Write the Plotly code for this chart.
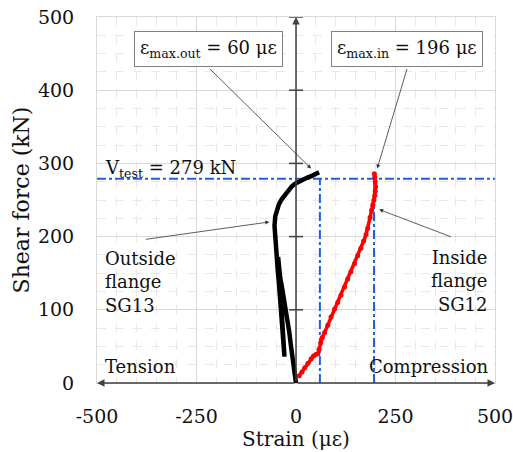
import plotly.graph_objects as go

# ---- data ----
# Outside flange SG13 (black)
out_strain = [0, -4, -9, -13, -17, -21, -25, -30, -35, -40, -44, -45, -42, -38, -34, -31, -29,
              -31, -34, -38, -42, -46, -50, -53, -54, -52, -48, -43, -36, -28, -20, -10, 0,
              10, 20, 30, 40, 48, 54, 58]
out_force = [0, 20, 36, 52, 70, 85, 100, 115, 130, 145, 160, 172, 150, 120, 90, 60, 36,
             55, 80, 105, 130, 155, 180, 200, 215, 228, 237, 244, 251, 257, 263, 269, 273,
             276, 279, 281, 283, 285, 287, 288]

# Inside flange SG12 (red)
in_strain = [8, 15, 22, 30, 38, 44, 50, 55, 58, 62, 66, 72, 80, 88, 97, 105, 113, 122,
             130, 138, 147, 155, 163, 170, 176, 180, 186, 190, 193, 196, 198, 199, 200, 199, 198, 197]
in_force = [10, 15, 21, 27, 33, 37, 39, 40, 46, 55, 62, 69, 79, 90, 101, 110, 120, 131,
            142, 152, 163, 174, 184, 194, 203, 211, 226, 236, 243, 250, 256, 262, 268, 275, 281, 286]

v_test = 279
eps_max_out = 60
eps_max_in = 196

x_ticks = [-500, -250, 0, 250, 500]
x_labels = ["-500", "-250", "0", "250", "500"]
y_ticks = [0, 100, 200, 300, 400, 500]

FONT = "DejaVu Serif"
BLUE = "#1f5fe0"
AX = "#404040"

fig = go.Figure()

# reference lines
fig.add_trace(go.Scatter(x=[x_ticks[0], x_ticks[-1]], y=[v_test, v_test], mode="lines",
                         line=dict(color=BLUE, width=2, dash="dashdot"), hoverinfo="skip"))
fig.add_trace(go.Scatter(x=[eps_max_out, eps_max_out], y=[0, v_test], mode="lines",
                         line=dict(color=BLUE, width=2, dash="dashdot"), hoverinfo="skip"))
fig.add_trace(go.Scatter(x=[eps_max_in, eps_max_in], y=[0, v_test], mode="lines",
                         line=dict(color=BLUE, width=2, dash="dashdot"), hoverinfo="skip"))

# data
fig.add_trace(go.Scatter(x=out_strain, y=out_force, mode="lines",
                         line=dict(color="black", width=4.5), name="SG13"))
fig.add_trace(go.Scatter(x=in_strain, y=in_force, mode="lines+markers",
                         line=dict(color="#ff0000", width=3.5),
                         marker=dict(color="#ff0000", size=5), name="SG12"))

# axis arrows through origin
for (tx, ty) in [(0, 500), (-500, 0), (500, 0)]:
    fig.add_annotation(x=tx, y=ty, ax=0, ay=0, xref="x", yref="y", axref="x", ayref="y",
                       text="", showarrow=True, arrowhead=2, arrowsize=1,
                       arrowwidth=1.5, arrowcolor=AX)

shapes = []
for v in y_ticks[1:]:
    shapes.append(dict(type="line", xref="x", yref="y", xsizemode="pixel", xanchor=0,
                       x0=-7, x1=7, y0=v, y1=v, line=dict(color=AX, width=1.5)))
for v in x_ticks:
    if v == 0:
        continue
    shapes.append(dict(type="line", xref="x", yref="y", ysizemode="pixel", yanchor=0,
                       x0=v, x1=v, y0=0, y1=-7, line=dict(color=AX, width=1.5)))

# text annotations
tf = dict(family=FONT, size=18, color="#111111")
fig.add_annotation(x=-220, y=456, xref="x", yref="y", showarrow=False,
                   text="ε<sub>max.out</sub> = 60 με", font=tf,
                   bordercolor="#808080", borderwidth=1, borderpad=5, bgcolor="white")
fig.add_annotation(x=280, y=456, xref="x", yref="y", showarrow=False,
                   text="ε<sub>max.in</sub> = 196 με", font=tf,
                   bordercolor="#808080", borderwidth=1, borderpad=5, bgcolor="white")
fig.add_annotation(x=-486, y=293, xref="x", yref="y", showarrow=False, xanchor="left",
                   text="V<sub>test</sub> = 279 kN", font=tf)
fig.add_annotation(x=-486, y=138, xref="x", yref="y", showarrow=False, xanchor="left",
                   align="left", text="Outside<br>flange<br>SG13", font=tf)
fig.add_annotation(x=488, y=140, xref="x", yref="y", showarrow=False, xanchor="right",
                   align="right", text="Inside<br>flange<br>SG12", font=tf)
fig.add_annotation(x=-486, y=22, xref="x", yref="y", showarrow=False, xanchor="left",
                   text="Tension", font=tf)
fig.add_annotation(x=490, y=22, xref="x", yref="y", showarrow=False, xanchor="right",
                   text="Compression", font=tf)

# pointer arrows
for (tx, ty, sx, sy) in [(38, 293, -220, 431), (204, 293, 280, 431),
                         (-67, 220, -381, 196), (209, 237, 393, 199)]:
    fig.add_annotation(x=tx, y=ty, ax=sx, ay=sy, xref="x", yref="y", axref="x", ayref="y",
                       text="", showarrow=True, arrowhead=2, arrowsize=1,
                       arrowwidth=0.8, arrowcolor="#333333")

fig.update_layout(
    width=513, height=452, showlegend=False,
    margin=dict(l=97, r=18, t=17, b=69),
    paper_bgcolor="white", plot_bgcolor="white",
    font=dict(family=FONT, size=19, color="#111111"),
    shapes=shapes,
)
fig.update_xaxes(range=[-500, 500], tickvals=x_ticks, ticktext=x_labels, showgrid=True,
                 gridcolor="#d9d9d9", gridwidth=1, zeroline=False, showline=True, mirror=True,
                 linecolor="#d9d9d9", ticks="", ticklabelstandoff=16, ticklabeloverflow="allow",
                 automargin=False,
                 minor=dict(dtick=50, showgrid=True, gridcolor="#e8e8e8", griddash="dash"),
                 title=dict(text="Strain (με)", font=dict(size=20), standoff=2))
fig.update_yaxes(range=[0, 500], tickvals=y_ticks, showgrid=True, gridcolor="#d9d9d9",
                 gridwidth=1, zeroline=False, showline=True, mirror=True, linecolor="#d9d9d9",
                 ticks="", ticklabelstandoff=18, automargin=False,
                 minor=dict(dtick=25, showgrid=True, gridcolor="#e8e8e8", griddash="dash"),
                 title=dict(text="Shear force (kN)", font=dict(size=22), standoff=2))

fig.write_html("out.html")
